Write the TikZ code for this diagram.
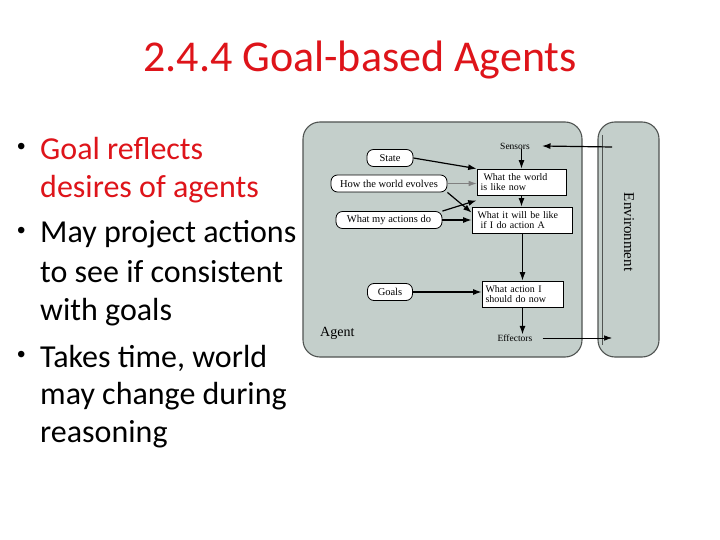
\documentclass[tikz,border=0pt]{standalone}
\usepackage{fontspec}
\setmainfont{Carlito}
\newfontfamily\diagfont{Liberation Serif}
\newfontfamily\dotfont{Liberation Sans}
\usetikzlibrary{arrows.meta}
\definecolor{titlered}{RGB}{222,20,26}
\definecolor{agentfill}{RGB}{196,207,203}
\definecolor{edgegray}{RGB}{80,84,82}
\begin{document}
\begin{tikzpicture}[x=1pt,y=-1pt,
  outerbox/.style={draw=edgegray, line width=1.1pt, fill=agentfill, rounded corners=17pt, inner sep=0pt},
  oval/.style={draw=black, line width=0.8pt, fill=white, rounded corners=6.5pt, inner sep=1pt,
    minimum height=17pt, font=\diagfont\fontsize{10.5}{11}\selectfont},
  wbox/.style={draw=black, line width=0.7pt, fill=white, align=left, inner sep=2pt,
    minimum height=26pt, font=\diagfont\fontsize{10}{10.5}\selectfont},
  lbl/.style={inner sep=0pt, font=\diagfont\fontsize{9.5}{10.5}\selectfont},
  arr/.style={-{Latex[length=8.5pt,width=6pt]}, line width=1.2pt, black},
  thinarr/.style={-{Latex[length=8pt,width=5.5pt]}, line width=0.6pt, black},
  grayarr/.style={-{Latex[length=8pt,width=5.5pt]}, line width=0.7pt, gray},
  bodytext/.style={anchor=base west, inner sep=0pt, font=\fontsize{32}{34}\selectfont},
  dot/.style={anchor=base west, inner sep=0pt, font=\dotfont\fontsize{24}{26}\selectfont}
]
\useasboundingbox (0,0) rectangle (720,540);
\fill[white] (0,0) rectangle (720,540);

% title
\node[anchor=base, inner sep=0pt, text=titlered, font=\fontsize{44}{48}\selectfont] (title) at (360,72) {2.4.4 Goal-based Agents};

% bullets
\node[dot] (d1) at (17,155) {•};
\node[bodytext, text=titlered] (l1) at (40,160) {Goal reflects};
\node[bodytext, text=titlered] (l2) at (40,197) {desires of agents};
\node[dot] (d2) at (17,238) {•};
\node[bodytext] (l3) at (40,243) {May project actions};
\node[bodytext] (l4) at (40,282) {to see if consistent};
\node[bodytext] (l5) at (40,320) {with goals};
\node[dot] (d3) at (17,362) {•};
\node[bodytext] (l6) at (40,367) {Takes time, world};
\node[bodytext] (l7) at (40,404) {may change during};
\node[bodytext] (l8) at (40,442) {reasoning};

% agent and environment boxes
\node[outerbox, minimum width=279pt, minimum height=235pt] (agent) at (442.5,239.5) {};
\node[outerbox, minimum width=61pt, minimum height=235pt] (env) at (628.5,239.5) {};
\draw[edgegray, line width=0.8pt] (602.5,135) -- (602.5,345);
\node[inner sep=0pt, rotate=-90, font=\diagfont\fontsize{15}{16}\selectfont] (envlbl) at (629,232) {Environment};
\node[anchor=west, inner sep=0pt, font=\diagfont\fontsize{14}{15}\selectfont] (agentlbl) at (320,333) {Agent};

% labels
\node[lbl] (sens) at (515,146) {Sensors};
\node[lbl] (eff) at (515,338) {Effectors};
\coordinate (senin) at (612,147);
\coordinate (effout) at (612,338);

% ovals
\node[oval, minimum width=46pt] (state) at (390,158) {State};
\node[oval, minimum width=116pt] (evolve) at (389,183.5) {How the world evolves};
\node[oval, minimum width=106pt] (acts) at (389,220) {What my actions do};
\node[oval, minimum width=45pt] (goals) at (390,292) {Goals};

% boxes
\node[wbox, minimum width=89pt, text width=82pt] (b1) at (521.5,182) {\hspace*{3pt}What the world\\is like now};
\node[wbox, minimum width=100pt, text width=93pt] (b2) at (522,220) {\hspace*{2pt}What it will be like\\\hspace*{5pt}if I do action A};
\node[wbox, minimum width=81pt, text width=74pt] (b3) at (522.5,294) {What action I\\should do now};

% connectors
\draw[arr] (senin) -- ([xshift=12pt]sens.east);
\draw[arr] (b1.north |- sens.south) -- (b1.north);
\draw[arr] (state.east) -- (b1.north west);
\draw[grayarr] (evolve.east) -- (evolve.east -| b1.west);
\draw[arr] (evolve.south east) -- ([yshift=-6pt]b2.north west);
\draw[arr] (acts.north east) -- ([yshift=-5pt]b1.south west);
\draw[arr] (acts.east) -- (acts.east -| b2.west);
\draw[arr] (b1.south) -- (b1.south |- b2.north);
\draw[arr] (b2.south -| b3.north) -- (b3.north);
\draw[arr] (goals.east) -- (goals.east -| b3.west);
\draw[arr] (b3.south) -- (b3.south |- eff.north);
\draw[thinarr] ([xshift=10pt]eff.east) -- (effout);
\end{tikzpicture}
\end{document}
